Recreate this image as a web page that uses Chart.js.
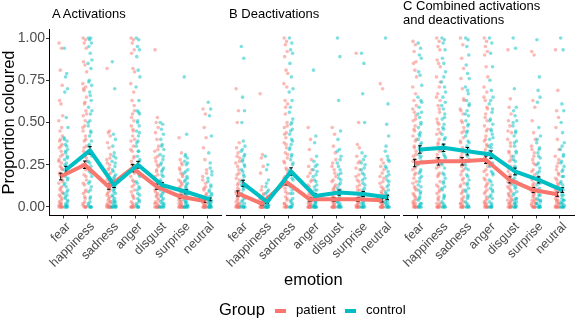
<!DOCTYPE html>
<html>
<head>
<meta charset="utf-8">
<script src="https://cdn.jsdelivr.net/npm/chart.js@4.4.1/dist/chart.umd.min.js"></script>
<style>
  html, body { margin: 0; padding: 0; background: #fff; }
  body { width: 578px; height: 321px; position: relative; overflow: hidden;
         font-family: "Liberation Sans", Arial, Helvetica, sans-serif; color: #000; }
  canvas { position: absolute; left: 0; top: 0; }
  .txt { position: absolute; white-space: nowrap; }
  .ptitle { font-size: 13px; line-height: 14px; }
  .big { font-size: 16.5px; line-height: 16.5px; }
  .leg { font-size: 13.2px; line-height: 13.2px; }
  .sw { position: absolute; height: 3.5px; width: 11px; }
</style>
</head>
<body>
<canvas id="pA" width="578" height="321"></canvas>
<canvas id="pB" width="578" height="321"></canvas>
<canvas id="pC" width="578" height="321"></canvas>

<div class="txt ptitle" style="left:52px;top:7px;">A Activations</div>
<div class="txt ptitle" style="left:229px;top:7px;">B Deactivations</div>
<div class="txt ptitle" style="left:403px;top:-1px;">C Combined activations<br>and deactivations</div>
<div class="txt big" style="left:284px;top:271px;">emotion</div>
<div class="txt big" style="left:219px;top:301px;">Group</div>
<div class="sw" style="left:275px;top:309px;background:#F8766D;"></div>
<div class="txt leg" style="left:296px;top:303px;">patient</div>
<div class="sw" style="left:345px;top:309px;background:#00BFC4;"></div>
<div class="txt leg" style="left:366px;top:303px;">control</div>

<script>
// ---------------- data ----------------
const EMOTIONS = ['fear', 'happiness', 'sadness', 'anger', 'disgust', 'surprise', 'neutral'];
const Y_TICKS = [0, 0.25, 0.5, 0.75, 1.0];

// Group means (lines) and standard errors (error bars)
const actPatientMean   = [0.18, 0.25, 0.12, 0.23, 0.12, 0.06, 0.035];
const actControlMean   = [0.22, 0.335, 0.13, 0.25, 0.13, 0.09, 0.045];
const deactPatientMean = [0.08, 0.02, 0.15, 0.045, 0.045, 0.045, 0.04];
const deactControlMean = [0.14, 0.03, 0.21, 0.065, 0.085, 0.077, 0.057];
const combPatientMean  = [0.26, 0.27, 0.27, 0.28, 0.16, 0.10, 0.075];
const combControlMean  = [0.34, 0.35, 0.33, 0.31, 0.21, 0.16, 0.10];

const actPatientSE   = [0.02, 0.022, 0.015, 0.022, 0.015, 0.01, 0.008];
const actControlSE   = [0.02, 0.022, 0.015, 0.02, 0.015, 0.012, 0.008];
const deactPatientSE = [0.015, 0.008, 0.02, 0.01, 0.01, 0.01, 0.01];
const deactControlSE = [0.018, 0.01, 0.022, 0.012, 0.015, 0.015, 0.012];
const combPatientSE  = [0.022, 0.022, 0.022, 0.022, 0.018, 0.015, 0.012];
const combControlSE  = [0.022, 0.022, 0.022, 0.022, 0.02, 0.018, 0.014];

// Individual participant proportions (one list per emotion)
const actPatientPts = [
  [0.97,0.94,0.81,0.72,0.63,0.61,0.54,0.51,0.47,0.45,0.42,0.40,0.37,0.35,0.33,0.30,0.28,0.26,0.24,0.22,0.20,0.18,0.16,0.14,0.12,0.10,0.08,0.06,0.05,0.03,0.02,0.01,0,0,0,0,0.39,0.36,0.31,0.27,0.23,0.19,0.15,0.11,0.09,0.07,0.04,0.02,0.01,0],
  [1.0,0.99,0.97,0.94,0.86,0.84,0.80,0.73,0.71,0.69,0.65,0.61,0.57,0.54,0.51,0.48,0.45,0.42,0.39,0.36,0.33,0.30,0.27,0.25,0.22,0.19,0.16,0.13,0.10,0.08,0.05,0.03,0.01,0,0,0,0.70,0.62,0.55,0.47,0.40,0.35,0.29,0.24,0.18,0.14,0.09,0.06,0.02,0],
  [0.82,0.45,0.44,0.42,0.38,0.35,0.31,0.28,0.25,0.22,0.20,0.17,0.15,0.13,0.11,0.09,0.07,0.06,0.04,0.03,0.02,0.01,0,0,0,0,0,0,0.29,0.26,0.23,0.19,0.16,0.14,0.12,0.10,0.08,0.05,0.03,0.01,0],
  [1.0,0.99,0.97,0.93,0.91,0.82,0.80,0.73,0.68,0.63,0.57,0.55,0.51,0.48,0.45,0.42,0.39,0.36,0.33,0.30,0.27,0.24,0.21,0.18,0.15,0.12,0.10,0.07,0.05,0.03,0.01,0,0,0,0,0.60,0.53,0.46,0.40,0.34,0.29,0.25,0.20,0.16,0.13,0.09,0.06,0.02,0],
  [0.93,0.53,0.50,0.47,0.44,0.40,0.36,0.33,0.30,0.27,0.24,0.21,0.19,0.16,0.14,0.12,0.10,0.08,0.06,0.05,0.03,0.02,0.01,0,0,0,0,0,0.34,0.29,0.25,0.22,0.18,0.15,0.13,0.11,0.09,0.07,0.04,0.02,0],
  [0.41,0.32,0.28,0.25,0.23,0.20,0.18,0.16,0.14,0.12,0.10,0.08,0.07,0.05,0.04,0.03,0.02,0.01,0,0,0,0,0,0,0.26,0.22,0.19,0.15,0.13,0.11,0.09,0.06,0.04,0.02,0.01,0],
  [0.58,0.55,0.47,0.41,0.35,0.28,0.22,0.18,0.14,0.11,0.08,0.06,0.05,0.03,0.02,0.01,0,0,0,0,0,0,0.20,0.16,0.12,0.10,0.07,0.05,0.04,0.02,0.01,0]
];
const actControlPts = [
  [0.94,0.79,0.77,0.70,0.68,0.53,0.47,0.41,0.39,0.37,0.34,0.32,0.30,0.28,0.26,0.24,0.22,0.20,0.18,0.16,0.14,0.12,0.10,0.08,0.07,0.05,0.04,0.02,0.01,0,0,0,0.40,0.36,0.33,0.29,0.25,0.21,0.17,0.13,0.09,0.06,0.03,0.01,0],
  [1.0,1.0,0.99,0.97,0.95,0.91,0.87,0.85,0.82,0.75,0.72,0.68,0.63,0.59,0.55,0.51,0.48,0.45,0.42,0.39,0.36,0.33,0.30,0.27,0.24,0.21,0.18,0.15,0.12,0.09,0.06,0.03,0.01,0,0,0,0.74,0.66,0.57,0.50,0.44,0.37,0.31,0.26,0.20,0.14,0.10,0.05,0.02,0],
  [0.86,0.70,0.43,0.40,0.36,0.32,0.29,0.27,0.24,0.21,0.19,0.17,0.15,0.13,0.11,0.09,0.07,0.05,0.04,0.03,0.02,0.01,0,0,0,0,0,0.30,0.26,0.22,0.18,0.16,0.14,0.12,0.10,0.08,0.06,0.03,0.01,0],
  [1.0,0.99,0.95,0.93,0.89,0.81,0.77,0.71,0.63,0.57,0.55,0.51,0.48,0.45,0.42,0.39,0.36,0.33,0.30,0.27,0.24,0.21,0.18,0.15,0.12,0.10,0.07,0.05,0.03,0.01,0,0,0,0.56,0.50,0.44,0.38,0.33,0.28,0.23,0.19,0.14,0.11,0.08,0.04,0.02,0],
  [0.50,0.49,0.46,0.43,0.40,0.37,0.34,0.31,0.28,0.26,0.23,0.21,0.18,0.16,0.14,0.12,0.10,0.08,0.06,0.05,0.03,0.02,0.01,0,0,0,0,0.36,0.30,0.25,0.22,0.19,0.15,0.13,0.11,0.09,0.07,0.04,0.02,0],
  [0.77,0.43,0.31,0.29,0.27,0.25,0.22,0.20,0.18,0.16,0.14,0.12,0.10,0.09,0.07,0.05,0.04,0.03,0.02,0.01,0,0,0,0,0,0.30,0.26,0.21,0.17,0.15,0.13,0.11,0.08,0.06,0.03,0.01,0],
  [0.62,0.58,0.54,0.42,0.32,0.26,0.21,0.17,0.13,0.10,0.08,0.06,0.04,0.03,0.02,0.01,0,0,0,0,0,0.23,0.19,0.15,0.12,0.09,0.07,0.05,0.03,0.02,0.01,0]
];
const deactPatientPts = [
  [0.70,0.57,0.50,0.38,0.35,0.32,0.29,0.26,0.22,0.19,0.16,0.13,0.10,0.08,0.06,0.04,0.03,0.02,0.01,0,0,0,0,0,0,0.30,0.27,0.24,0.20,0.17,0.14,0.11,0.09,0.07,0.05,0.02,0.01,0],
  [0.67,0.31,0.29,0.24,0.20,0.12,0.08,0.05,0.03,0.02,0.01,0,0,0,0,0,0,0,0.10,0.07,0.05,0.04,0.03,0.02,0.01,0,0],
  [1.0,0.98,0.96,0.92,0.89,0.81,0.79,0.73,0.71,0.63,0.61,0.59,0.50,0.47,0.44,0.41,0.38,0.35,0.32,0.29,0.26,0.23,0.20,0.17,0.14,0.11,0.08,0.06,0.04,0.02,0.01,0,0,0,0.55,0.48,0.43,0.37,0.31,0.27,0.22,0.18,0.13,0.09,0.05,0.02,0],
  [0.47,0.40,0.34,0.28,0.24,0.20,0.16,0.13,0.10,0.08,0.06,0.04,0.03,0.02,0.01,0,0,0,0,0,0,0,0.22,0.18,0.15,0.12,0.09,0.07,0.05,0.03,0.02,0.01,0],
  [0.47,0.43,0.36,0.32,0.26,0.22,0.18,0.15,0.12,0.10,0.08,0.06,0.04,0.03,0.02,0.01,0,0,0,0,0,0,0.28,0.24,0.20,0.16,0.13,0.11,0.09,0.06,0.04,0.02,0],
  [0.91,0.50,0.37,0.35,0.30,0.26,0.22,0.18,0.15,0.12,0.10,0.08,0.06,0.04,0.03,0.02,0.01,0,0,0,0,0,0.27,0.23,0.19,0.16,0.13,0.10,0.07,0.05,0.03,0.01,0],
  [0.73,0.70,0.28,0.26,0.24,0.20,0.17,0.14,0.11,0.09,0.07,0.05,0.04,0.03,0.02,0.01,0,0,0,0,0,0,0.22,0.18,0.15,0.12,0.10,0.08,0.06,0.03,0.02,0]
];
const deactControlPts = [
  [0.95,0.88,0.65,0.57,0.50,0.39,0.36,0.33,0.30,0.27,0.24,0.21,0.18,0.15,0.12,0.10,0.08,0.06,0.04,0.02,0.01,0,0,0,0,0.34,0.31,0.28,0.25,0.22,0.19,0.16,0.13,0.11,0.07,0.05,0.03,0],
  [0.30,0.25,0.22,0.16,0.12,0.09,0.06,0.04,0.03,0.02,0.01,0,0,0,0,0,0,0,0.14,0.10,0.08,0.06,0.04,0.02,0.01,0],
  [1.0,0.97,0.93,0.91,0.85,0.77,0.70,0.68,0.63,0.59,0.52,0.49,0.46,0.43,0.40,0.37,0.34,0.31,0.28,0.25,0.22,0.19,0.16,0.13,0.10,0.08,0.05,0.03,0.01,0,0,0,0.56,0.50,0.45,0.39,0.35,0.30,0.26,0.21,0.17,0.12,0.08,0.04,0.02,0],
  [0.81,0.42,0.38,0.30,0.27,0.24,0.21,0.18,0.15,0.12,0.10,0.08,0.06,0.04,0.03,0.02,0.01,0,0,0,0,0,0.25,0.22,0.19,0.16,0.13,0.10,0.07,0.05,0.03,0.01,0],
  [1.0,0.89,0.63,0.45,0.40,0.34,0.30,0.26,0.22,0.19,0.16,0.13,0.10,0.08,0.06,0.04,0.03,0.02,0.01,0,0,0,0,0.33,0.28,0.24,0.20,0.17,0.14,0.11,0.08,0.05,0.03,0.01,0],
  [0.91,0.85,0.67,0.50,0.32,0.28,0.25,0.22,0.19,0.16,0.13,0.10,0.08,0.06,0.04,0.03,0.02,0.01,0,0,0,0,0.30,0.26,0.23,0.20,0.17,0.14,0.11,0.07,0.05,0.02,0],
  [1.0,0.61,0.49,0.42,0.36,0.30,0.27,0.24,0.21,0.18,0.15,0.12,0.10,0.08,0.06,0.04,0.03,0.02,0.01,0,0,0,0,0.33,0.28,0.23,0.19,0.16,0.13,0.09,0.07,0.04,0.02,0]
];
const combPatientPts = [
  [0.98,0.96,0.92,0.86,0.85,0.81,0.77,0.71,0.67,0.63,0.60,0.56,0.54,0.51,0.48,0.45,0.42,0.39,0.36,0.33,0.30,0.28,0.25,0.22,0.20,0.17,0.15,0.12,0.10,0.08,0.06,0.04,0.03,0.02,0.01,0,0,0,0,0.58,0.52,0.46,0.40,0.35,0.31,0.27,0.23,0.19,0.14,0.11,0.07,0.05,0.02,0],
  [1.0,0.98,0.95,0.93,0.87,0.85,0.83,0.77,0.71,0.67,0.63,0.60,0.56,0.52,0.49,0.46,0.43,0.40,0.37,0.34,0.31,0.28,0.26,0.23,0.20,0.18,0.15,0.12,0.10,0.08,0.06,0.04,0.02,0.01,0,0,0,0,0.74,0.65,0.58,0.50,0.44,0.38,0.33,0.29,0.24,0.19,0.13,0.09,0.05,0.02,0],
  [1.0,0.96,0.88,0.82,0.76,0.70,0.63,0.58,0.55,0.51,0.47,0.44,0.41,0.38,0.35,0.32,0.29,0.27,0.24,0.22,0.19,0.16,0.14,0.12,0.10,0.08,0.06,0.04,0.03,0.02,0.01,0,0,0,0,0.64,0.57,0.50,0.45,0.39,0.34,0.30,0.25,0.21,0.17,0.13,0.09,0.05,0.02,0],
  [1.0,0.98,0.95,0.92,0.90,0.83,0.77,0.71,0.68,0.63,0.58,0.55,0.51,0.48,0.45,0.42,0.39,0.37,0.34,0.31,0.29,0.27,0.24,0.21,0.19,0.16,0.14,0.12,0.10,0.08,0.06,0.04,0.03,0.02,0.01,0,0,0,0,0.65,0.59,0.53,0.46,0.40,0.36,0.32,0.26,0.22,0.17,0.13,0.09,0.05,0.02,0],
  [0.93,0.64,0.59,0.55,0.51,0.48,0.44,0.40,0.36,0.33,0.30,0.27,0.24,0.21,0.19,0.17,0.15,0.13,0.11,0.09,0.08,0.06,0.05,0.04,0.03,0.02,0.01,0,0,0,0,0,0.45,0.38,0.32,0.28,0.23,0.18,0.14,0.12,0.10,0.07,0.04,0.02,0],
  [0.92,0.90,0.63,0.59,0.51,0.44,0.40,0.36,0.32,0.28,0.25,0.22,0.19,0.16,0.14,0.12,0.10,0.08,0.06,0.05,0.04,0.03,0.02,0.01,0,0,0,0,0,0.34,0.30,0.26,0.21,0.17,0.13,0.11,0.09,0.07,0.04,0.02,0],
  [0.93,0.69,0.57,0.53,0.47,0.40,0.34,0.30,0.26,0.22,0.19,0.16,0.13,0.11,0.09,0.07,0.05,0.04,0.03,0.02,0.01,0,0,0,0,0,0.28,0.24,0.20,0.17,0.14,0.12,0.10,0.06,0.04,0.02,0]
];
const combControlPts = [
  [0.97,0.94,0.90,0.88,0.80,0.78,0.72,0.65,0.63,0.59,0.56,0.53,0.50,0.47,0.44,0.42,0.40,0.37,0.35,0.33,0.31,0.29,0.27,0.25,0.22,0.20,0.18,0.15,0.12,0.10,0.08,0.06,0.04,0.02,0.01,0,0,0,0.62,0.55,0.49,0.43,0.38,0.34,0.30,0.26,0.21,0.17,0.13,0.09,0.05,0.02,0],
  [1.0,0.99,0.97,0.93,0.88,0.85,0.80,0.74,0.71,0.65,0.62,0.58,0.55,0.52,0.49,0.46,0.43,0.40,0.37,0.35,0.33,0.31,0.29,0.26,0.23,0.20,0.17,0.14,0.12,0.10,0.07,0.05,0.03,0.01,0,0,0,0.77,0.68,0.60,0.53,0.47,0.41,0.36,0.30,0.25,0.19,0.15,0.11,0.06,0.02,0],
  [1.0,0.99,0.95,0.90,0.84,0.79,0.76,0.71,0.67,0.63,0.60,0.57,0.54,0.51,0.48,0.45,0.42,0.39,0.36,0.34,0.32,0.30,0.28,0.25,0.22,0.19,0.16,0.13,0.11,0.09,0.07,0.05,0.03,0.01,0,0,0,0.69,0.61,0.55,0.49,0.44,0.38,0.33,0.27,0.23,0.18,0.14,0.10,0.06,0.02,0],
  [1.0,0.97,0.91,0.83,0.75,0.69,0.65,0.61,0.56,0.52,0.49,0.46,0.43,0.40,0.37,0.35,0.33,0.31,0.29,0.26,0.24,0.21,0.19,0.16,0.13,0.11,0.09,0.07,0.05,0.03,0.01,0,0,0,0.63,0.58,0.51,0.45,0.41,0.36,0.30,0.25,0.20,0.15,0.10,0.06,0.02,0],
  [1.0,0.94,0.70,0.59,0.57,0.54,0.51,0.48,0.45,0.42,0.39,0.36,0.33,0.30,0.27,0.24,0.22,0.19,0.17,0.15,0.13,0.11,0.09,0.07,0.05,0.04,0.03,0.02,0.01,0,0,0,0.50,0.44,0.38,0.32,0.28,0.23,0.20,0.16,0.12,0.08,0.05,0.02,0],
  [0.99,0.77,0.69,0.65,0.62,0.47,0.42,0.38,0.35,0.32,0.29,0.26,0.23,0.20,0.17,0.15,0.13,0.11,0.09,0.07,0.05,0.04,0.03,0.02,0.01,0,0,0,0,0.40,0.34,0.30,0.25,0.21,0.18,0.14,0.10,0.07,0.04,0.02,0],
  [1.0,0.93,0.61,0.57,0.50,0.44,0.38,0.34,0.30,0.27,0.24,0.21,0.18,0.15,0.13,0.11,0.09,0.07,0.05,0.04,0.03,0.02,0.01,0,0,0,0,0.36,0.31,0.26,0.22,0.18,0.14,0.10,0.07,0.04,0.02,0]
];

// ---------------- styling / layout ----------------
const FONT = '"Liberation Sans", Arial, Helvetica, sans-serif';
const RED = '#F8766D', TEAL = '#00BFC4';
const RED_A = 'rgba(248,118,109,0.5)', TEAL_A = 'rgba(0,191,196,0.5)';
const DODGE = 0.11;
const JITTER = [-0.07, 0.03, -0.02, 0.06, -0.05, 0.01, 0.08, -0.08, 0.04, -0.03, 0.07, -0.01, 0.05, -0.06, 0.02, 0];
const PLOT_TOP = 29.6, PLOT_BOTTOM = 215.4, H = 321;
const Y_AXIS_W = 60;

// Error bars are drawn right after the last point cloud, i.e. above the points and beneath the mean lines.
const errorBarPlugin = {
  id: 'errorBars',
  afterDatasetDraw(chart, args) {
    if (args.index !== 1) return;
    const ctx = chart.ctx, ys = chart.scales.y;
    chart.data.datasets.forEach((ds, i) => {
      if (!ds.errs) return;
      const meta = chart.getDatasetMeta(i);
      ctx.save();
      ctx.strokeStyle = '#000';
      ctx.lineWidth = 1;
      meta.data.forEach((el, k) => {
        const v = ds.data[k].y, e = ds.errs[k];
        const y1 = ys.getPixelForValue(v + e), y2 = ys.getPixelForValue(v - e);
        const x = el.x, w = 1.8;
        ctx.beginPath();
        ctx.moveTo(x, y1); ctx.lineTo(x, y2);
        ctx.moveTo(x - w, y1); ctx.lineTo(x + w, y1);
        ctx.moveTo(x - w, y2); ctx.lineTo(x + w, y2);
        ctx.stroke();
      });
      ctx.restore();
    });
  }
};

function pointsFrom(lists, offset) {
  const out = [];
  lists.forEach((vals, i) => {
    vals.forEach((v, k) => out.push({ x: i + offset + JITTER[k % JITTER.length], y: v }));
  });
  return out;
}
function meansFrom(vals, offset) {
  return vals.map((v, i) => ({ x: i + offset, y: v }));
}

function makePanel(id, ptsP, ptsC, meanP, meanC, seP, seC, showY, plotLeft, plotRight) {
  return new Chart(document.getElementById(id), {
    type: 'scatter',
    data: {
      datasets: [
        { data: pointsFrom(ptsP, -DODGE), pointBackgroundColor: RED_A, pointBorderWidth: 0, pointRadius: 1.8, order: 10 },
        { data: pointsFrom(ptsC, DODGE), pointBackgroundColor: TEAL_A, pointBorderWidth: 0, pointRadius: 1.8, order: 9 },
        { data: meansFrom(meanP, -DODGE), showLine: true, borderColor: RED, borderWidth: 4, pointRadius: 0,
          borderJoinStyle: 'round', errs: seP, order: 2 },
        { data: meansFrom(meanC, DODGE), showLine: true, borderColor: TEAL, borderWidth: 4, pointRadius: 0,
          borderJoinStyle: 'round', errs: seC, order: 1 }
      ]
    },
    options: {
      responsive: false,
      animation: false,
      devicePixelRatio: 1,
      layout: { padding: { left: showY ? plotLeft - 49 : plotLeft - Y_AXIS_W, right: 578 - plotRight, top: PLOT_TOP, bottom: 0 } },
      plugins: { legend: { display: false }, tooltip: { enabled: false } },
      scales: {
        x: {
          type: 'linear', min: -0.6, max: 6.6,
          afterBuildTicks: s => { s.ticks = EMOTIONS.map((_, i) => ({ value: i })); },
          afterFit: s => { s.height = H - PLOT_BOTTOM; },
          ticks: {
            autoSkip: false, minRotation: 45, maxRotation: 45, padding: 1, labelOffset: 5,
            color: '#4D4D4D', font: { family: FONT, size: 12.5 },
            callback: v => EMOTIONS[Math.round(v)]
          },
          grid: { display: true, drawOnChartArea: false, drawTicks: true, tickLength: 3, tickColor: '#333333', tickWidth: 1 },
          border: { display: true, color: '#000', width: 1 }
        },
        y: {
          display: true, min: -0.05, max: 1.05,
          afterBuildTicks: s => { s.ticks = Y_TICKS.map(v => ({ value: v })); },
          afterFit: s => { s.width = showY ? 49 : Y_AXIS_W; },
          ticks: { display: showY, padding: 1, color: '#4D4D4D', font: { family: FONT, size: 14 }, callback: v => v.toFixed(2) },
          grid: { display: showY, drawOnChartArea: false, drawTicks: true, tickLength: 3, tickColor: '#333333', tickWidth: 1 },
          border: { display: showY, color: '#000', width: 1 },
          title: { display: showY, text: 'Proportion coloured', color: '#000', font: { family: FONT, size: 16.5 }, padding: 0 }
        }
      }
    },
    plugins: [errorBarPlugin]
  });
}

makePanel('pA', actPatientPts, actControlPts, actPatientMean, actControlMean, actPatientSE, actControlSE, true, 49, 221.7);
makePanel('pB', deactPatientPts, deactControlPts, deactPatientMean, deactControlMean, deactPatientSE, deactControlSE, false, 226, 399);
makePanel('pC', combPatientPts, combControlPts, combPatientMean, combControlMean, combPatientSE, combControlSE, false, 403, 576);
</script>
</body>
</html>
